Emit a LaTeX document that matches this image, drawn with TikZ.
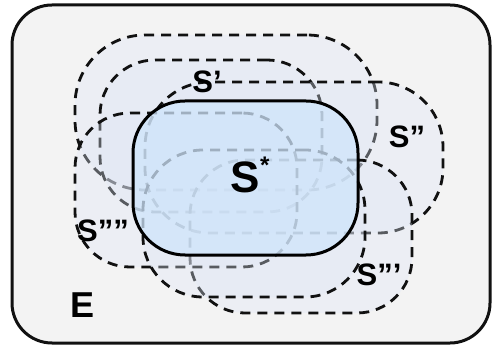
\documentclass[tikz,border=0pt]{standalone}
\usepackage{fontspec}
\setmainfont{Liberation Sans}
\usepackage{tikz}
\usetikzlibrary{positioning}
\definecolor{envFill}{HTML}{f3f3f3}
\definecolor{envB}{HTML}{111111}
\definecolor{setFill}{HTML}{dfe7f6}
\definecolor{optFill}{HTML}{cfe5fb}
\definecolor{dashB}{HTML}{111111}

\begin{document}
\begin{tikzpicture}[x=1pt, y=-1pt, env/.style={draw=envB, line width=3pt, fill=envFill, rounded corners=40pt, inner sep=0pt, outer sep=0pt},cand/.style={draw=dashB, line width=2.8pt, dash pattern=on 10pt off 7pt, fill=setFill, fill opacity=0.35, draw opacity=1, inner sep=0pt, outer sep=0pt},opt/.style={draw=black, line width=3pt, fill=optFill, fill opacity=0.75, draw opacity=1, rounded corners=52pt, inner sep=0pt, outer sep=0pt},lbl/.style={font=\fontsize{31}{31}\selectfont\bfseries, inner sep=0pt}]
\useasboundingbox (0,0) rectangle (492,347);
\node[env, minimum width=478pt, minimum height=338pt] (env) at (251,174) {};
% candidate sets, drawn below the optimum
\node[cand, rounded corners=70pt, minimum width=302pt, minimum height=155pt] (top) at (226,112.5) {};
\node[cand, rounded corners=55pt, minimum width=222pt, minimum height=152pt] (s1) at (211,136) {};
\node[cand, rounded corners=65pt, minimum width=298pt, minimum height=151pt] (s2) at (294,157.5) {};
\node[cand, rounded corners=55pt, minimum width=222pt, minimum height=153pt] (s3) at (301,236.5) {};
\node[cand, rounded corners=55pt, minimum width=222pt, minimum height=154pt] (s4) at (186,190) {};
\node[cand, rounded corners=60pt, minimum width=222pt, minimum height=147pt] (bot) at (254,223.5) {};
\node[opt, minimum width=225pt, minimum height=154pt] (opt) at (245.5,178) {};
% labels
\node[lbl] (l1) at (207,82) {S'};
\node[lbl] (l2) at (407,137) {S''};
\node[lbl] (l3) at (379,275) {S'''};
\node[lbl] (l4) at (103,231) {S''''};
\node[lbl, font=\fontsize{44}{44}\selectfont\bfseries] (lopt) at (250,175) {S\raisebox{0.42em}{\fontsize{24}{24}\selectfont *}};
\node[lbl, font=\fontsize{36}{36}\selectfont\bfseries] (lenv) at (83,305) {E};
\end{tikzpicture}
\end{document}
